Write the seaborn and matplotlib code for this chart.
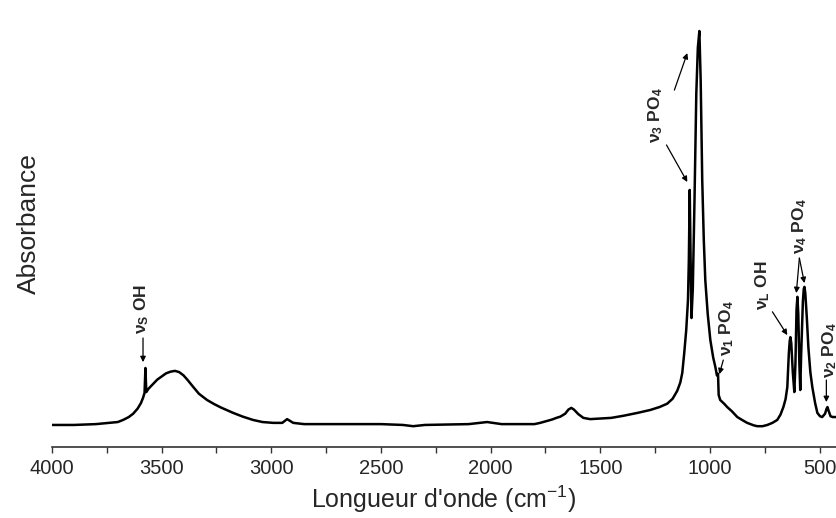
import numpy as np
import pandas as pd
import matplotlib
matplotlib.use("Agg")
import matplotlib.pyplot as plt
from matplotlib.ticker import MultipleLocator
import seaborn as sns

# spectre IR (nombre d'onde en cm-1, absorbance en unites arbitraires)
wavenumber = [4000, 3900, 3800, 3700, 3676, 3650, 3630, 3610, 3595, 3585, 3578, 3574, 3570,
              3560, 3520, 3480, 3460, 3439, 3420, 3400, 3380, 3357, 3330, 3293, 3260, 3230,
              3174, 3130, 3083, 3040, 2991, 2950, 2928, 2900, 2850, 2700, 2500, 2400, 2353,
              2300, 2100, 2016, 1950, 1800, 1774, 1720, 1700, 1682, 1660, 1645, 1632, 1620,
              1600, 1577, 1546, 1450, 1395, 1330, 1272, 1230, 1195, 1170, 1149, 1135, 1126,
              1117, 1108, 1100, 1096, 1092, 1088, 1084, 1078, 1070, 1062, 1055, 1048, 1042,
              1035, 1028, 1021, 1010, 998, 985, 975, 968, 963, 960, 953, 935, 921, 900, 875,
              850, 830, 800, 784, 760, 738, 715, 693, 678, 665, 655, 647, 640, 636, 633, 629,
              622, 615, 610, 605, 601, 597, 592, 588, 584, 576, 572, 569, 565, 558, 551, 542,
              533, 520, 510, 498, 488, 475, 468, 464, 458, 450, 440, 423]
absorbance = [0.053, 0.053, 0.055, 0.060, 0.065, 0.072, 0.080, 0.092, 0.105, 0.118, 0.130, 0.190, 0.132,
              0.140, 0.162, 0.177, 0.181, 0.183, 0.180, 0.172, 0.160, 0.145, 0.128, 0.113, 0.103, 0.095,
              0.082, 0.073, 0.065, 0.060, 0.058, 0.058, 0.067, 0.058, 0.055, 0.055, 0.055, 0.053, 0.050,
              0.053, 0.055, 0.060, 0.055, 0.055, 0.058, 0.066, 0.070, 0.073, 0.080, 0.090, 0.094, 0.090,
              0.079, 0.070, 0.067, 0.070, 0.075, 0.082, 0.089, 0.096, 0.104, 0.116, 0.135, 0.155, 0.178,
              0.226, 0.281, 0.353, 0.450, 0.618, 0.450, 0.310, 0.380, 0.600, 0.850, 0.960, 1.000, 0.880,
              0.642, 0.500, 0.401, 0.320, 0.257, 0.215, 0.192, 0.172, 0.176, 0.125, 0.113, 0.104, 0.096, 0.086, 0.072,
              0.064, 0.058, 0.052, 0.050, 0.050, 0.053, 0.058, 0.065, 0.078, 0.096, 0.115, 0.144, 0.226, 0.255, 0.264, 0.250,
              0.180, 0.132, 0.200, 0.330, 0.361, 0.320, 0.200, 0.137, 0.220, 0.350, 0.380, 0.385, 0.370, 0.310, 0.240, 0.180,
              0.144, 0.105, 0.082, 0.074, 0.072, 0.080, 0.092, 0.096, 0.086, 0.074, 0.072, 0.072]

# annotations : texte, position du texte, fleches (depart, arrivee)
labels = [r"ν$_S$ OH", r"ν$_3$ PO$_4$", r"ν$_1$ PO$_4$", r"ν$_L$ OH", r"ν$_4$ PO$_4$", r"ν$_2$ PO$_4$"]
label_pos = [(3590, 0.332), (1248, 0.798), (925, 0.286), (761, 0.389), (592, 0.531), (456, 0.233)]
arrows = [[((3585, 0.262), (3585, 0.204))],
          [((1162, 0.858), (1103, 0.947)), ((1198, 0.726), (1103, 0.637))],
          [((939, 0.209), (957, 0.175))],
          [((715, 0.325), (647, 0.269))],
          [((592, 0.454), (606, 0.370)), ((592, 0.454), (569, 0.394))],
          [((469, 0.161), (469, 0.108))]]

df = pd.DataFrame({"wn": wavenumber, "A": absorbance})

sns.set_style("white")
plt.rcParams["font.family"] = ["Liberation Sans", "DejaVu Sans"]
plt.rcParams["mathtext.default"] = "regular"

fig = plt.figure(figsize=(8.36, 5.18), dpi=100)
ax = fig.add_axes([52 / 836, 71 / 518, 784 / 836, 447 / 518])

sns.lineplot(data=df, x="wn", y="A", color="black", linewidth=1.8, ax=ax)

ax.set_xlim(4000, 425)
ax.set_ylim(0, 447 / 416)
sns.despine(ax=ax, left=True, top=True, right=True)
ax.spines["bottom"].set_linewidth(1.2)
ax.spines["bottom"].set_color("#333333")
ax.set_yticks([])
ax.xaxis.set_major_locator(MultipleLocator(500))
ax.xaxis.set_minor_locator(MultipleLocator(250))
ax.tick_params(axis="x", which="both", direction="out", length=4, width=1,
               color="#333333", bottom=True, labelsize=14.5, pad=5)
ax.set_xlabel(r"Longueur d'onde (cm$^{-1}$)", fontsize=18, labelpad=4)
ax.set_ylabel("Absorbance", fontsize=19, labelpad=8)

for txt, pos, arr in zip(labels, label_pos, arrows):
    ax.text(pos[0], pos[1], txt, rotation=90, ha="center", va="center",
            fontsize=12.5, fontweight="bold", clip_on=False)
    for start, end in arr:
        ax.annotate("", xy=end, xytext=start,
                    arrowprops=dict(arrowstyle="-|>", color="black", lw=0.9,
                                    mutation_scale=8, shrinkA=0, shrinkB=0))

fig.savefig("out.png", dpi=100)
